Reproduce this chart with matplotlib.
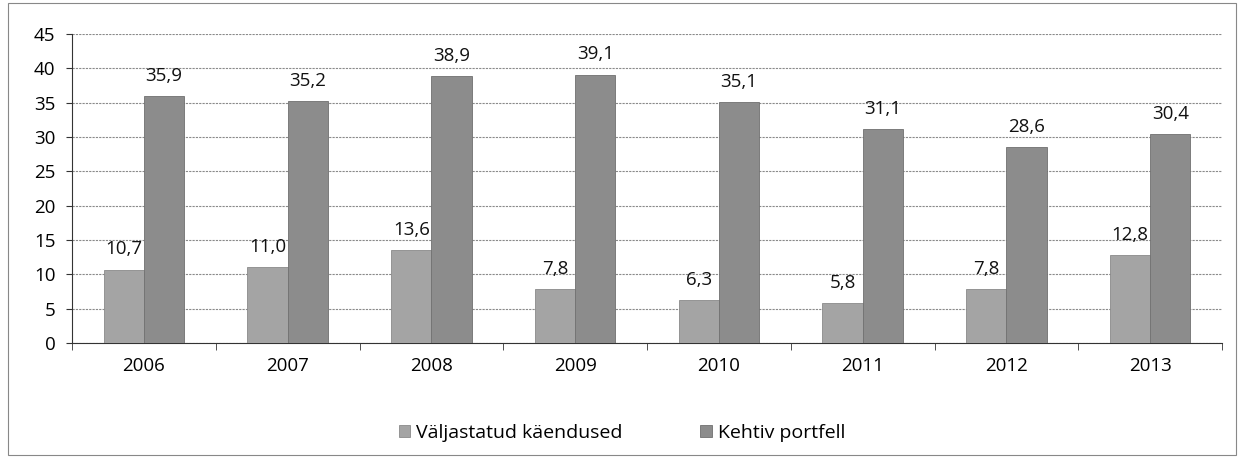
import matplotlib
matplotlib.use("Agg")
import matplotlib.pyplot as plt
from matplotlib.patches import Rectangle
import numpy as np

years = ["2006", "2007", "2008", "2009", "2010", "2011", "2012", "2013"]
issued = [10.7, 11.0, 13.6, 7.8, 6.3, 5.8, 7.8, 12.8]
portfolio = [35.9, 35.2, 38.9, 39.1, 35.1, 31.1, 28.6, 30.4]
series_names = ["Väljastatud käendused", "Kehtiv portfell"]
yticks = [0, 5, 10, 15, 20, 25, 30, 35, 40, 45]

plt.rcParams['font.family'] = ['Open Sans', 'DejaVu Sans']
FS = 13.5

fig = plt.figure(figsize=(12.42, 4.59), dpi=100)
ax = fig.add_axes([72/1242, 1-343/459, (1222-72)/1242, (343-34)/459])

x = np.arange(len(years))
w = 0.28
b1 = ax.bar(x - w/2, issued, w, color="#a4a4a4", edgecolor="#8a8a8a", linewidth=0.6,
            label=series_names[0], zorder=3)
b2 = ax.bar(x + w/2, portfolio, w, color="#8c8c8c", edgecolor="#707070", linewidth=0.6,
            label=series_names[1], zorder=3)

def fmt(v):
    return f"{v:.1f}".replace(".", ",")

for bars, vals in ((b1, issued), (b2, portfolio)):
    for r, v in zip(bars, vals):
        ax.annotate(fmt(v), (r.get_x() + r.get_width()/2, v), xytext=(0, 8),
                    textcoords="offset points", ha="center", va="bottom",
                    fontsize=FS, color="#111111", zorder=4)

ax.set_xlim(-0.5, len(years) - 0.5)
ax.set_ylim(0, 45)
ax.set_yticks(yticks)
ax.set_yticklabels([str(t) for t in yticks], fontsize=FS)
ax.set_xticks(x)
ax.set_xticklabels(years, fontsize=FS)
ax.set_xticks(np.arange(-0.5, len(years)), minor=True)
ax.tick_params(axis="x", which="major", length=0, pad=10)
ax.tick_params(axis="x", which="minor", length=5, color="#333333")
ax.tick_params(axis="y", length=4, color="#333333", pad=8)
ax.grid(axis="y", color="#8a8a8a", linewidth=0.8, linestyle=(0, (2, 1)), zorder=0)
for s in ("top", "right"):
    ax.spines[s].set_visible(False)
ax.spines["left"].set_color("#333333")
ax.spines["bottom"].set_color("#333333")

fig.legend(handles=[b1, b2], labels=series_names, loc="center",
           bbox_to_anchor=(622/1242, 1-433/459), ncol=2, frameon=False,
           fontsize=14, handlelength=0.6, handleheight=0.6, handletextpad=0.3,
           columnspacing=4.0)

fig.patches.append(Rectangle((8/1242, 4/459), 1228/1242, 452/459, transform=fig.transFigure,
                             fill=False, edgecolor="#888888", linewidth=0.8))

fig.savefig("out.png", dpi=100)
